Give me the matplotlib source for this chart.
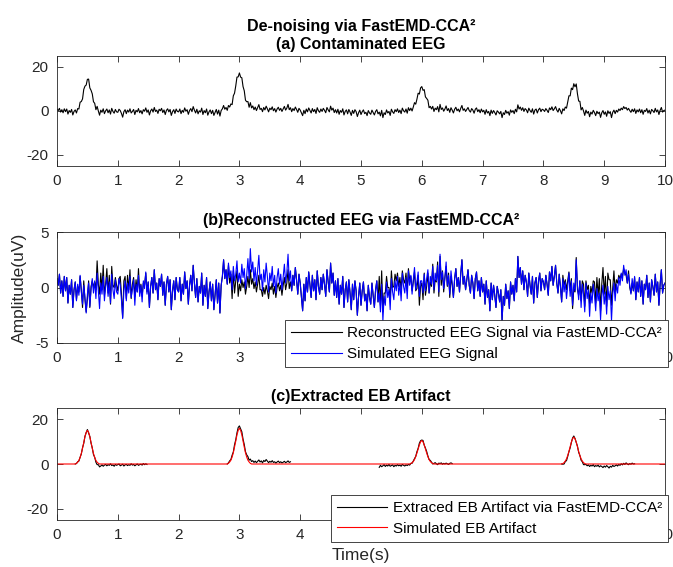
import numpy as np
import matplotlib
matplotlib.use("Agg")
import matplotlib.pyplot as plt

plt.rcParams['font.family'] = ['Liberation Sans', 'DejaVu Sans']
plt.rcParams['axes.unicode_minus'] = False

# ---------------- data ----------------
fs_step = 0.02  # seconds between samples
t_start, t_end = 0.0, 10.0

# simulated EEG (blue, panel b), one row per second
eeg_rows = [
    [0.8, 0.2, 1.2, -0.5, 0.6, -0.8, 1.0, -0.3, 0.9, -1.4,
     0.2, -0.6, 0.7, -1.8, -0.2, 0.5, -1.2, 0.3, -0.7, 1.1,
     -0.4, -1.5, 0.2, -0.9, -2.3, -0.6, 0.4, -1.7, -0.2, 0.8,
     -0.5, 0.6, -1.0, 1.3, -0.3, -1.9, 0.4, -0.6, 1.0, -1.2,
     0.1, 0.9, -0.8, 0.5, -1.4, 1.2, -0.2, -1.0, 0.7, -0.4],
    [-0.6, 0.8, 0.2, -1.1, -2.8, -0.3, 0.6, -1.2, 0.4, -0.5,
     1.0, -0.9, -0.2, 0.7, -1.6, 0.3, -0.4, 1.1, -0.8, 0.2,
     -1.3, 0.6, -0.1, 1.4, -0.6, 0.5, -1.8, 0.1, 0.9, -0.5,
     1.6, -0.2, 0.4, -1.1, 0.8, 0.1, 1.2, -0.7, 0.5, -1.6,
     0.3, 1.0, -0.4, 0.7, -2.0, -0.3, 0.6, -1.1, 0.9, -0.2],
    [-0.4, 0.9, -1.2, 0.3, -0.6, 1.4, -0.1, 0.6, -1.5, 0.2,
     1.1, -0.3, 2.0, 0.4, -0.9, 0.8, -1.3, 0.1, -0.5, 1.3,
     -1.6, 0.2, -0.8, 0.9, -1.9, -0.4, 0.5, -1.2, 0.3, -2.0,
     -0.6, 0.7, -1.4, 0.4, -2.3, 0.2, 1.0, 2.5, 0.8, 1.6,
     0.3, 2.2, 0.9, 1.5, -0.2, 1.9, 0.6, 1.2, 2.4, 0.5],
    [1.3, 0.4, 2.1, 0.9, 1.7, -0.1, 1.1, 2.6, 0.8, 3.5,
     1.4, 2.3, 0.6, 1.8, 0.2, 1.5, 2.9, 0.7, 1.2, -0.3,
     1.6, 0.5, 2.2, 1.0, -0.4, 1.3, 0.6, 1.9, 0.1, 1.1,
     -0.5, 0.9, 1.7, 0.3, 1.2, -0.2, 1.0, 2.1, 0.4, 1.3,
     3.0, 0.6, 1.5, -0.3, 1.1, 0.2, 1.8, 0.7, -0.6, 1.2],
    [0.4, -0.8, -2.1, 0.3, -1.2, 0.9, -0.4, 1.4, 0.2, -0.9,
     1.1, -0.3, 0.7, -1.1, 1.5, 0.1, -0.6, 0.9, -0.2, 1.2,
     0.3, -0.8, 1.6, 0.5, -0.4, 2.2, 0.4, 1.3, -0.7, 0.6,
     -0.9, 0.8, -1.5, 0.2, -0.6, 1.0, -1.8, -0.2, 0.5, -1.3,
     0.7, -0.5, -2.0, 0.3, -1.1, 0.6, -0.3, -2.5, -0.8, 0.4],
    [-1.6, -0.3, 0.5, -1.2, -0.6, -2.1, 0.2, -0.9, -1.5, 0.4,
     -0.7, -1.8, -0.2, 0.6, -1.3, -0.5, -2.2, 0.3, -3.0, -0.8,
     -1.6, 0.5, -0.9, -0.2, -2.0, 0.8, -0.4, -1.1, 0.6, -0.3,
     1.0, -0.7, 0.4, -1.2, 1.3, 0.1, -0.5, 0.9, -1.0, 1.5,
     0.2, 1.1, -0.6, 0.7, 1.8, -0.2, 0.5, 1.4, -0.8, 0.6],
    [0.6, -0.5, 1.2, -0.3, 0.8, 1.6, -0.5, 1.0, 0.3, 1.9,
     -0.2, 1.3, 0.6, 2.0, -0.4, 3.0, 0.7, 1.4, -0.1, 0.9,
     2.3, 0.2, 1.1, -0.6, 1.5, 0.4, -0.9, 0.8, 1.7, 0.1,
     0.9, -0.4, 1.2, 2.5, 0.3, 1.0, -0.2, 0.7, 1.6, 0.2,
     -0.5, 1.1, 0.4, -1.0, 0.8, 1.4, -0.3, 0.6, -0.8, 0.9],
    [-0.4, 0.3, -1.5, 0.6, -0.9, -0.2, -2.1, 0.4, -1.1, 0.2,
     -0.7, -1.8, 0.1, -0.5, -1.3, -0.2, -3.0, -0.8, -1.6, 0.3,
     -1.0, -0.3, -1.9, 0.5, -0.6, 0.2, -1.2, 0.8, -0.4, 2.8,
     0.9, 1.8, 0.3, 1.5, -0.2, 1.1, 0.5, -0.8, 1.3, 0.2,
     -0.6, 1.0, -1.4, 0.4, 0.9, -0.9, 0.6, 1.3, -0.3, 0.8],
    [0.5, -0.2, 1.1, 0.3, -0.7, 1.4, 0.6, 1.9, 0.2, 1.0,
     2.0, 0.4, -0.5, 1.2, 0.1, -1.3, 0.8, -0.4, 0.5, -1.0,
     0.2, 1.3, -0.8, 0.6, -1.6, 0.4, -0.3, 2.5, 0.1, -1.1,
     0.6, -1.8, 0.3, -0.6, -2.2, 0.4, -1.0, -0.2, -2.6, -0.5,
     -1.4, 0.3, -0.7, -2.1, -0.1, -1.2, -0.5, -2.9, -0.8, 0.2],
    [-1.5, -0.4, -2.4, 0.1, -1.1, -0.3, -3.0, -0.6, 0.4, -1.2,
     0.3, -0.5, 0.9, 0.2, 1.3, 0.6, 2.0, 1.1, 1.6, 0.4,
     1.2, 0.2, -0.6, 0.8, -0.3, 1.0, -1.1, 0.5, -0.4, 0.9,
     -0.8, 0.6, -1.5, 0.3, -0.2, 1.1, -0.9, 0.4, -1.3, 0.7,
     0.1, -0.7, 1.2, -0.4, 0.5, -1.6, 0.3, 1.6, -0.5, 0.2],
    [0.4],
]

# simulated eye-blink artifact (red, panel c): peak times and shapes
blink_times = [0.5, 3.0, 6.0, 8.5]
blink_shapes = [
    [0, 0.3, 0.8, 1.6, 2.9, 4.7, 7.0, 9.6, 12.2, 14.1, 15.0, 14.1, 12.2, 9.6, 7.0, 4.7, 2.9, 1.6, 0.8, 0.3, 0],
    [0, 0.3, 0.9, 1.7, 3.1, 5.0, 7.5, 10.2, 13.0, 15.0, 16.0, 15.0, 13.0, 10.2, 7.5, 5.0, 3.1, 1.7, 0.9, 0.3, 0],
    [0, 0.2, 0.6, 1.1, 2.0, 3.3, 4.9, 6.7, 8.5, 9.9, 10.5, 9.9, 8.5, 6.7, 4.9, 3.3, 2.0, 1.1, 0.6, 0.2, 0],
    [0, 0.2, 0.6, 1.3, 2.3, 3.8, 5.6, 7.7, 9.8, 11.3, 12.0, 11.3, 9.8, 7.7, 5.6, 3.8, 2.3, 1.3, 0.6, 0.2, 0],
]

# processing windows and EEG leakage (simulated EEG - reconstructed EEG) in each
window_starts = [0.30, 2.80, 5.30, 8.30]
leakage = [
    [0.0, -0.1, 0.2, -0.3, 0.1, -0.2, 0.3, -0.4, 0.2, -0.1,
     0.4, -0.2, 0.1, -0.3, 0.2, -0.5, 0.1, -0.8, -1.1, -0.6,
     -1.3, -0.9, -0.4, -1.0, -0.5, -0.2, -0.8, -0.3, -0.6, 0.1,
     -0.7, -0.4, -1.0, -0.2, -0.6, -0.3, 0.0, -0.8, -0.5, -0.1,
     -0.9, -0.4, -0.2, -0.7, -0.3, -0.6, 0.1, -0.5, -0.2, -0.8,
     -0.4, 0.0, -0.6, -0.3, -0.1, -0.5, 0.2, -0.3, 0.1, -0.2],
    [0.0, 0.2, 0.5, 0.3, 0.8, 0.4, 1.1, 0.6, 0.9, 1.3,
     1.0, 0.7, 1.4, 0.9, 1.2, 0.5, 1.0, 1.6, 0.8, 1.9,
     1.1, 1.5, 0.7, 1.3, 0.6, 1.2, 1.8, 0.9, 1.4, 0.5,
     1.6, 1.1, 2.0, 1.3, 0.6, 1.2, 0.8, 1.5, 0.7, 1.0,
     0.4, 0.9, 1.3, 0.6, 1.0, 0.5, 0.8, 1.2, 0.6, 0.9,
     1.4, 0.7, 1.0],
    [-1.5, -0.6, -1.2, -0.8, -0.3, -1.1, -0.5, -0.9, -0.2, -1.0,
     -0.7, -0.4, -1.2, -0.6, -0.9, -0.3, -0.8, -0.5, -1.0, -0.2,
     -0.6, -0.9, -0.4, -0.7, -0.2, -0.5, 0.1, -0.3, 0.2, 0.4,
     0.1, 0.6, 0.3, 0.8, 0.5, 0.2, 0.6, -0.1, 0.4, 0.7,
     0.3, 0.0, 0.5, 0.2, -0.2, 0.3, 0.6, 0.1, -0.3, 0.4,
     0.2, 0.5, -0.1, 0.3, 0.0, 0.4, 0.1, -0.2, 0.3, 0.5,
     0.2],
    [0.0, -0.3, -0.6, -0.2, -0.8, -0.4, -0.1, -0.5, -0.2, 0.3,
     0.5, 0.1, -0.2, 0.3, -0.4, 0.0, -0.6, -0.3, -0.9, -0.5,
     -0.2, -0.8, -0.4, -1.1, -0.6, -0.9, -0.3, -1.2, -0.7, -1.0,
     -0.5, -1.3, -0.8, -1.1, -1.6, -0.9, -1.4, -0.7, -1.2, -1.8,
     -1.0, -1.4, -0.6, -1.1, -0.8, -0.4, -0.9, -0.2, -0.6, 0.1,
     -0.4, 0.3, -0.2, 0.5, 0.0, -0.3, 0.2, -0.1, 0.4, 0.0,
     0.1],
]

xticks = list(range(0, 11))
yticks_ac = [-20, 0, 20]
yticks_b = [-5, 0, 5]

# ---------------- assemble series ----------------
eeg = np.array([v for row in eeg_rows for v in row], dtype=float)
n = len(eeg)
t = np.round(np.arange(n) * fs_step + t_start, 4)

def idx(time):
    return int(round((time - t_start) / fs_step))

eb = np.zeros(n)
for tc, shape in zip(blink_times, blink_shapes):
    i0 = idx(tc) - len(shape) // 2
    eb[i0:i0 + len(shape)] = shape

recon = eeg.copy()
extracted = np.full(n, np.nan)
for ts, d in zip(window_starts, leakage):
    i0 = idx(ts)
    d = np.array(d)
    recon[i0:i0 + len(d)] = eeg[i0:i0 + len(d)] - d
    extracted[i0:i0 + len(d)] = eb[i0:i0 + len(d)] + d

contaminated = eeg + eb

# ---------------- plotting ----------------
W, H = 673, 567
fig = plt.figure(figsize=(W / 100, H / 100), dpi=100)
axcol = (0.15, 0.15, 0.15)

def make_ax(top_px, bottom_px):
    left, right = 57, 665
    return fig.add_axes([left / W, 1 - bottom_px / H, (right - left) / W, (bottom_px - top_px) / H])

def style(ax, yticks, ylim):
    ax.set_xlim(t_start, t_end)
    ax.set_ylim(*ylim)
    ax.set_xticks(xticks)
    ax.set_yticks(yticks)
    ax.tick_params(direction='in', length=4, width=0.6, top=True, right=True,
                   labelsize=11, colors=axcol, labelcolor=axcol, pad=6)
    for s in ax.spines.values():
        s.set_color(axcol)
        s.set_linewidth(0.6)

legend_kw = dict(fontsize=11, frameon=True, fancybox=False, edgecolor=axcol, framealpha=1,
                 handlelength=3.3, borderpad=0.4, labelspacing=0.45, handletextpad=0.35,
                 borderaxespad=0)

ax1 = make_ax(56, 166)
ax1.plot(t, contaminated, color='k', lw=0.8)
style(ax1, yticks_ac, (-25, 25))
ax1.set_title('De-noising via FastEMD-CCA²\n(a) Contaminated EEG', fontsize=11.5,
              fontweight='bold', pad=5, linespacing=1.25)

ax2 = make_ax(232, 343)
ax2.plot(t, recon, color='k', lw=0.8, label='Reconstructed EEG Signal via FastEMD-CCA²')
ax2.plot(t, eeg, color=(0, 0, 1), lw=0.8, label='Simulated EEG Signal')
style(ax2, yticks_b, (-5, 5))
ax2.set_title('(b)Reconstructed EEG via FastEMD-CCA²', fontsize=11.5, fontweight='bold', pad=5)
ax2.set_ylabel('Amplitude(uV)', fontsize=12.5, color=axcol, labelpad=6)
leg2 = ax2.legend(loc='upper right', bbox_to_anchor=(1.005, 0.207), **legend_kw)
leg2.get_frame().set_linewidth(0.6)

ax3 = make_ax(408, 520)
ax3.plot(t, extracted, color='k', lw=0.8, label='Extraced EB Artifact via FastEMD-CCA²')
ax3.plot(t, eb, color=(1, 0, 0), lw=0.8, label='Simulated EB Artifact')
style(ax3, yticks_ac, (-25, 25))
ax3.set_title('(c)Extracted EB Artifact', fontsize=11.5, fontweight='bold', pad=5)
ax3.set_xlabel('Time(s)', fontsize=12.5, color=axcol, labelpad=4)
leg3 = ax3.legend(loc='upper right', bbox_to_anchor=(1.005, 0.225), **legend_kw)
leg3.get_frame().set_linewidth(0.6)

fig.savefig('out.png', dpi=100)
